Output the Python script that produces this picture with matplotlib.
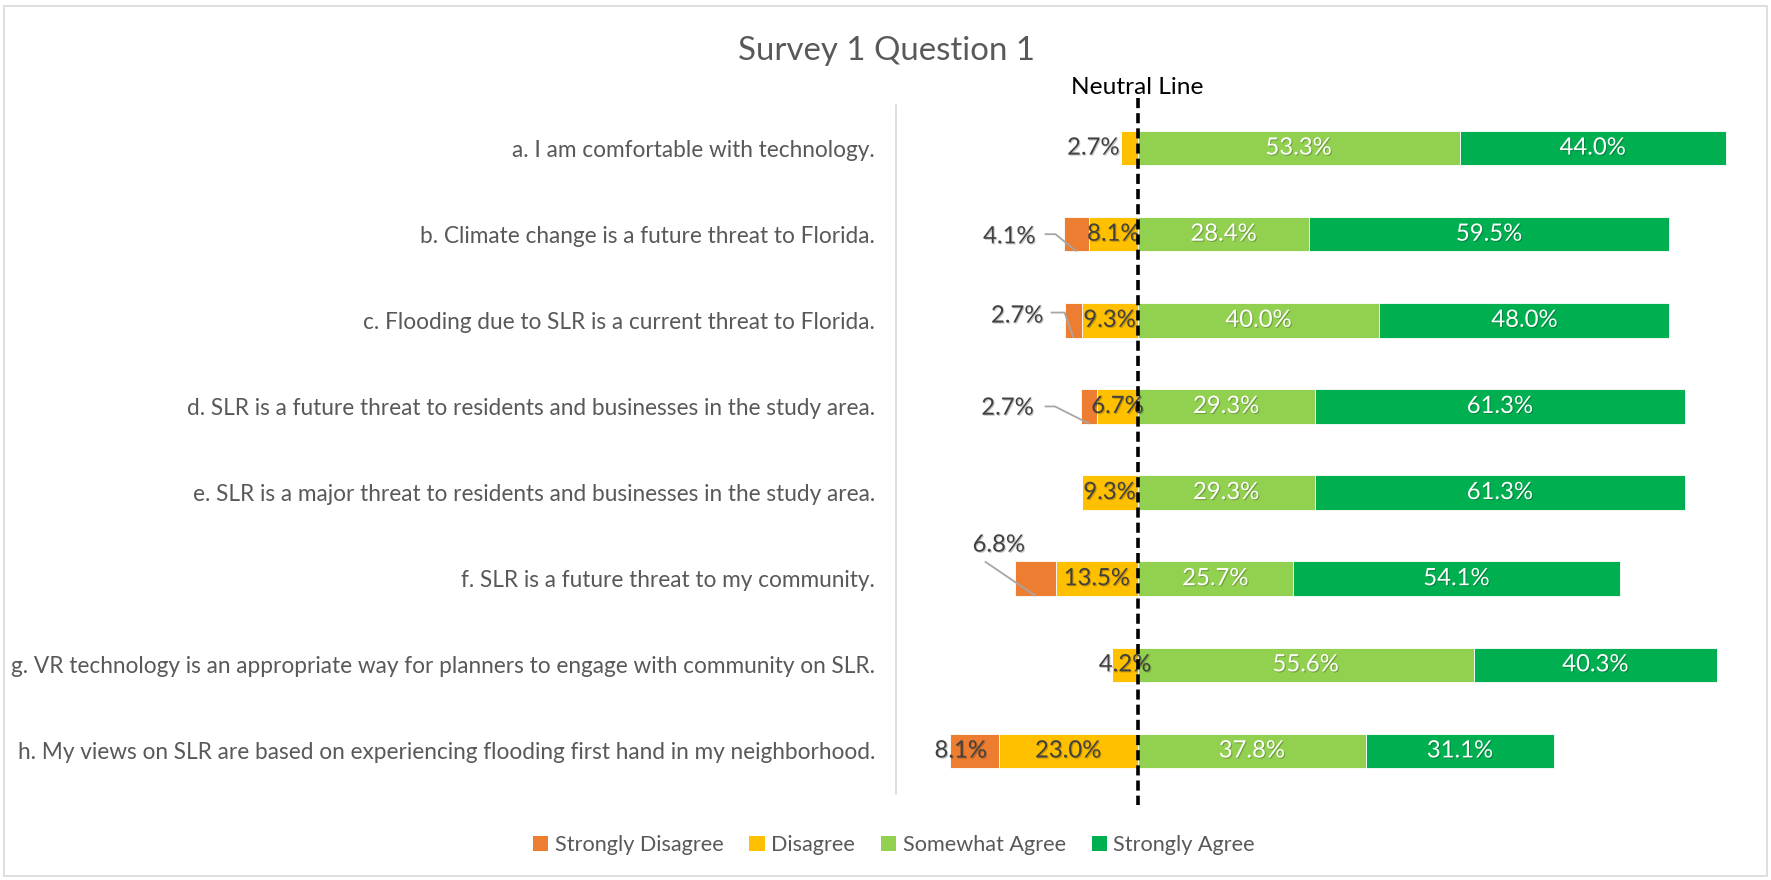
import matplotlib
matplotlib.use("Agg")
import matplotlib.pyplot as plt
import matplotlib.patheffects as pe
from matplotlib.patches import Rectangle, Patch
import numpy as np

# ---- data -------------------------------------------------------------
questions = [
    "a. I am comfortable with technology.",
    "b. Climate change is a future threat to Florida.",
    "c. Flooding due to SLR is a current threat to Florida.",
    "d. SLR is a future threat to residents and businesses in the study area.",
    "e. SLR is a major threat to residents and businesses in the study area.",
    "f. SLR is a future threat to my community.",
    "g. VR technology is an appropriate way for planners to engage with community on SLR.",
    "h. My views on SLR are based on experiencing flooding first hand in my neighborhood.",
]
strongly_disagree = [0.0, 4.1, 2.7, 2.7, 0.0, 6.8, 0.0, 8.1]
disagree = [2.7, 8.1, 9.3, 6.7, 9.3, 13.5, 4.2, 23.0]
somewhat_agree = [53.3, 28.4, 40.0, 29.3, 29.3, 25.7, 55.6, 37.8]
strongly_agree = [44.0, 59.5, 48.0, 61.3, 61.3, 54.1, 40.3, 31.1]
series_names = ["Strongly Disagree", "Disagree", "Somewhat Agree", "Strongly Agree"]

# ---- style ------------------------------------------------------------
C_SD, C_D, C_SA, C_STA = "#ED7D31", "#FFC000", "#92D050", "#00B050"
GRAY_TXT = "#595959"
DARK_TXT = "#404040"
plt.rcParams["font.family"] = ["Lato", "DejaVu Sans"]

W, H = 1771, 880
fig = plt.figure(figsize=(W / 100, H / 100), dpi=100)
fig.patch.set_facecolor("white")
fig.add_artist(Rectangle((4 / W, 4 / H), 1 - 8 / W, 1 - 10 / H, transform=fig.transFigure,
                         facecolor="none", edgecolor="#D9D9D9", lw=1.2))

ax = fig.add_axes([896 / W, (H - 794) / H, (1742 - 896) / W, (794 - 105) / H])

y = np.arange(len(questions))
sd = np.array(strongly_disagree)
d = np.array(disagree)
sa = np.array(somewhat_agree)
sta = np.array(strongly_agree)

bh = 0.4
kw = dict(height=bh, edgecolor="white", linewidth=0.6)
ax.barh(y, -d, left=0, color=C_D, **kw)
ax.barh(y, -sd, left=-d, color=C_SD, **kw)
ax.barh(y, sa, left=0, color=C_SA, **kw)
ax.barh(y, sta, left=sa, color=C_STA, **kw)

ax.set_xlim(-40, 100)
ax.set_ylim(len(questions) - 0.5, -0.5)

ax.set_yticks(y)
ax.set_yticklabels(questions, fontsize=16.3, color=GRAY_TXT)
ax.tick_params(axis="y", length=0, pad=15)
ax.set_xticks([])
for s in ("top", "right", "bottom"):
    ax.spines[s].set_visible(False)
ax.spines["left"].set_color("#D9D9D9")
ax.spines["left"].set_linewidth(1.2)

shadow = [pe.SimplePatchShadow(offset=(0.8, -0.8), shadow_rgbFace="black", alpha=0.22), pe.Normal()]
lab_fs = 17.2


def pct(v):
    return f"{v:.1f}%"


# green segments: white labels centred in the bar
for i in range(len(y)):
    ax.text(sa[i] / 2, y[i], pct(sa[i]), ha="center", va="center", color="white",
            fontsize=lab_fs, path_effects=shadow)
    ax.text(sa[i] + sta[i] / 2, y[i], pct(sta[i]), ha="center", va="center", color="white",
            fontsize=lab_fs, path_effects=shadow)

# yellow segments
for i in range(len(y)):
    if i == 0:
        ax.text(-d[i] - 0.3, y[i], pct(d[i]), ha="right", va="center", color=DARK_TXT,
                fontsize=lab_fs, path_effects=shadow)
    else:
        ax.text(-d[i] / 2, y[i], pct(d[i]), ha="center", va="center", color=DARK_TXT,
                fontsize=lab_fs, path_effects=shadow)

# orange segments: called-out labels with leader lines
callouts = {
    1: dict(xy=(-16.9, 0.03), ha="right", path=[(-15.4, 0.0), (-13.6, 0.0)]),
    2: dict(xy=(-15.6, -0.05), ha="right", path=[(-14.4, -0.09), (-12.1, -0.09)]),
    3: dict(xy=(-17.2, 0.02), ha="right", path=[(-15.4, 0.0), (-13.7, 0.0)]),
    5: dict(xy=(-23.0, -0.39), ha="center", path=[(-25.3, -0.2)]),
}
for i, cfg in callouts.items():
    tx, ty = cfg["xy"]
    ax.text(tx, y[i] + ty, pct(sd[i]), ha=cfg["ha"], va="center", color=DARK_TXT,
            fontsize=lab_fs, path_effects=shadow)
    pts = [(px, y[i] + py) for px, py in cfg["path"]]
    pts.append((-(d[i] + sd[i] / 2), y[i] + bh / 2))
    xs, ys = zip(*pts)
    ax.plot(xs, ys, color="#A6A6A6", lw=1.3, solid_capstyle="butt", zorder=1)

# row h: label sits on the orange segment
ax.text(-29.3, y[7], pct(sd[7]), ha="center", va="center", color=DARK_TXT,
        fontsize=lab_fs, path_effects=shadow)

# neutral line
ax.plot([0, 0], [-0.58, len(questions) - 0.37], color="black", lw=2.6,
        linestyle=(0, (2.8, 1.4)), clip_on=False, zorder=5)
fig.text(1137 / W, 1 - 87 / H, "Neutral Line", ha="center", va="center",
         fontsize=17.6, color="black")

# title
fig.text(887 / W, 1 - 51 / H, "Survey 1 Question 1", ha="center", va="center",
         fontsize=23.8, color=GRAY_TXT)

# legend
handles = [Patch(facecolor=c, edgecolor="none") for c in (C_SD, C_D, C_SA, C_STA)]
fig.legend(handles, series_names, loc="center", bbox_to_anchor=(894 / W, 1 - 845 / H),
           ncol=4, frameon=False, fontsize=15.6, labelcolor=GRAY_TXT,
           handlelength=0.7, handleheight=0.7, handletextpad=0.3, columnspacing=1.2)

fig.savefig("out.png", dpi=100, facecolor="white")
